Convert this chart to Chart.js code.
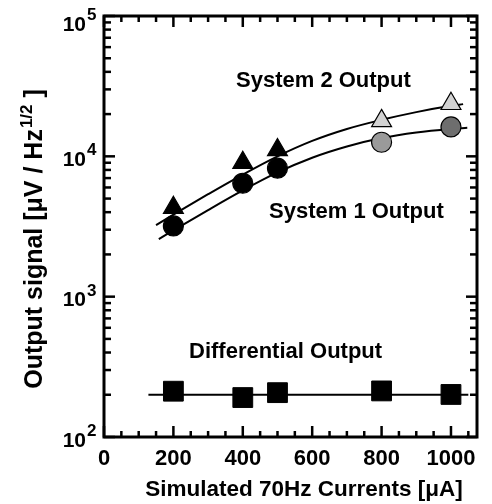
<!DOCTYPE html>
<html><head><meta charset="utf-8">
<script src="https://cdn.jsdelivr.net/npm/chart.js@4.4.1/dist/chart.umd.min.js"></script>
<style>html,body{margin:0;padding:0;background:#fff;overflow:hidden}</style>
</head><body>
<canvas id="c" width="492" height="504" style="display:block;width:492px;height:504px"></canvas>
<script>
// ---- data ----
const currents = [200, 400, 500, 800, 1000];
const system2 = [4300, 9000, 11100, 17900, 23700];
const system1 = [3190, 6430, 8230, 12600, 16200];
const differential = [212, 191, 207, 213, 201];
const fit2X = [150, 200, 300, 400, 500, 600, 700, 800, 900, 1000, 1035];
const fit2Y = [3236, 3846, 5370, 7413, 10000, 12882, 15668, 18197, 20654, 22909, 23550];
const fit1X = [158, 200, 300, 400, 500, 600, 700, 800, 900, 1000, 1047];
const fit1Y = [2570, 2965, 4140, 5715, 7674, 9772, 11749, 13490, 14791, 15668, 15959];
const diffFitX = [128, 1050];
const diffFitY = [200, 200];
const xTickValues = [0, 200, 400, 600, 800, 1000];
const yDecadeExponents = [2, 3, 4, 5];
const seriesNames = ['System 2 Output', 'System 1 Output', 'Differential Output'];
const xTitle = 'Simulated 70Hz Currents [\u03BCA]';
const yTitleMain = 'Output signal [\u03BCV / Hz';
const yTitleSup = '1/2';
const yTitleEnd = ' ]';

const pts = (xs, ys) => xs.map((x, i) => ({x: x, y: ys[i]}));
const FONT = '"Liberation Sans", Arial, Helvetica, sans-serif';

const triFill = ['#000', '#000', '#000', '#d2d2d2', '#d2d2d2'];
const cirFill = ['#000', '#000', '#000', '#9a9a9a', '#6e6e6e'];

const decor = {
  id: 'decor',
  afterDraw(chart) {
    const {ctx, chartArea: a, scales: {x, y}} = chart;
    ctx.save();
    ctx.strokeStyle = '#000';
    ctx.lineCap = 'butt';
    ctx.lineWidth = 2.5;
    const seg = (x1, y1, x2, y2) => { ctx.beginPath(); ctx.moveTo(x1, y1); ctx.lineTo(x2, y2); ctx.stroke(); };
    for (let v = 0; v <= x.max; v += 50) {
      const px = x.getPixelForValue(v);
      const len = v % 200 === 0 ? 11 : 6;
      seg(px, a.bottom, px, a.bottom - len);
      seg(px, a.top, px, a.top + len);
    }
    for (const e of yDecadeExponents) {
      for (let m = 1; m <= 9; m++) {
        const v = m * Math.pow(10, e);
        if (v > y.max) break;
        const py = y.getPixelForValue(v);
        const len = m === 1 ? 11 : 7;
        seg(a.left, py, a.left + len, py);
        seg(a.right, py, a.right - len, py);
      }
    }
    ctx.lineWidth = 3;
    ctx.strokeRect(a.left, a.top, a.right - a.left, a.bottom - a.top);
    // y tick labels 10^n
    ctx.fillStyle = '#000';
    for (const e of yDecadeExponents) {
      const py = Math.max(y.getPixelForValue(Math.pow(10, e)), 21);
      ctx.font = 'bold 21px ' + FONT;
      ctx.textAlign = 'right';
      ctx.textBaseline = 'alphabetic';
      ctx.fillText('10', 86, py + 9.5);
      ctx.font = 'bold 17px ' + FONT;
      ctx.textAlign = 'left';
      ctx.fillText(String(e), 87, py - 1);
    }
    // x title
    ctx.font = 'bold 22.5px ' + FONT;
    ctx.textAlign = 'center';
    ctx.textBaseline = 'alphabetic';
    ctx.fillText(xTitle, 304, 496);
    // y title with superscript
    ctx.save();
    ctx.translate(42, 239);
    ctx.rotate(-Math.PI / 2);
    ctx.textAlign = 'left';
    ctx.textBaseline = 'alphabetic';
    const fMain = 'bold 25px ' + FONT, fSup = 'bold 17px ' + FONT;
    ctx.font = fMain; const w1 = ctx.measureText(yTitleMain).width; const w3 = ctx.measureText(yTitleEnd).width;
    ctx.font = fSup; const w2 = ctx.measureText(yTitleSup).width;
    let sx = -(w1 + w2 + w3 + 1) / 2;
    ctx.font = fMain; ctx.fillText(yTitleMain, sx, 0); sx += w1 + 1;
    ctx.font = fSup; ctx.fillText(yTitleSup, sx, -10); sx += w2;
    ctx.font = fMain; ctx.fillText(yTitleEnd, sx, 0);
    ctx.restore();
    // series annotations
    ctx.font = 'bold 22px ' + FONT;
    ctx.textAlign = 'left';
    ctx.fillText(seriesNames[0], 236, 87);
    ctx.fillText(seriesNames[1], 269, 218);
    ctx.fillText(seriesNames[2], 189, 358);
    ctx.restore();
  }
};

new Chart(document.getElementById('c'), {
  type: 'scatter',
  data: {
    datasets: [
      {label: seriesNames[0], data: pts(currents, system2), pointStyle: 'triangle', pointRadius: 11.5,
        backgroundColor: triFill, borderColor: '#000', borderWidth: 1.2, showLine: false},
      {label: seriesNames[1], data: pts(currents, system1), pointStyle: 'circle', pointRadius: 10,
        backgroundColor: cirFill, borderColor: '#000', borderWidth: 1.2, showLine: false},
      {label: seriesNames[2], data: pts(currents, differential), pointStyle: 'rect', pointRadius: 14,
        backgroundColor: '#000', borderColor: '#000', borderWidth: 1, showLine: false},
      {label: 'fit 2', data: pts(fit2X, fit2Y), showLine: true, pointRadius: 0, borderColor: '#000',
        borderWidth: 2, cubicInterpolationMode: 'monotone'},
      {label: 'fit 1', data: pts(fit1X, fit1Y), showLine: true, pointRadius: 0, borderColor: '#000',
        borderWidth: 2, cubicInterpolationMode: 'monotone'},
      {label: 'fit diff', data: pts(diffFitX, diffFitY), showLine: true, pointRadius: 0, borderColor: '#000',
        borderWidth: 2}
    ]
  },
  options: {
    responsive: false,
    animation: false,
    events: [],
    layout: {padding: {top: 16, right: 10, left: 0, bottom: 0}},
    plugins: {legend: {display: false}, tooltip: {enabled: false}},
    scales: {
      x: {
        type: 'linear', min: 0, max: 1075,
        afterBuildTicks: s => { s.ticks = xTickValues.map(v => ({value: v})); },
        ticks: {autoSkip: false, maxRotation: 0, padding: 9, color: '#000',
          callback: v => String(v),
          font: {family: FONT, size: 22, weight: 'bold'}},
        grid: {display: false, drawTicks: false},
        border: {display: false},
        title: {display: false},
        afterFit: s => { s.height = 67; }
      },
      y: {
        type: 'logarithmic', min: 100, max: 100000,
        ticks: {display: false},
        grid: {display: false, drawTicks: false},
        border: {display: false},
        afterFit: s => { s.width = 104; }
      }
    }
  },
  plugins: [decor]
});
</script>
</body></html>
